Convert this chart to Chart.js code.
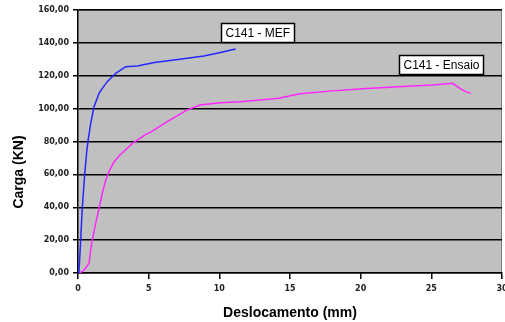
<!DOCTYPE html>
<html>
<head>
<meta charset="utf-8">
<script src="https://cdn.jsdelivr.net/npm/chart.js@4.4.1/dist/chart.umd.min.js"></script>
<style>
  html, body { margin: 0; padding: 0; background: #fff; }
  #wrap { width: 505px; height: 322px; }
</style>
</head>
<body>
<div id="wrap"><canvas id="myChart"></canvas></div>
<script>
// Values (displacement in mm, load in kN)
const mefX = [0, 0.07, 0.19, 0.3, 0.47, 0.62, 0.72, 0.9, 1.13, 1.49, 1.72, 2.07, 2.67, 3.37, 4.2, 5.4, 7.2, 8.9, 10, 11.15];
const mefY = [0, 0.8, 20, 39.3, 59.6, 74, 81, 91, 101, 109.3, 112.3, 116.4, 121.5, 125.5, 125.9, 128, 130, 132, 134, 136.3];

const ensaioX = [0, 0.3, 0.54, 0.78, 0.9, 1.01, 1.25, 1.49, 1.72, 1.96, 2.19, 2.55, 2.97, 3.9, 4.2, 4.74, 5.2, 6.28, 7.7, 8.63, 10.05, 11.46, 12.9, 14.2, 15.7, 18, 20.4, 23, 25.1, 26.5, 27, 27.4, 27.8];
const ensaioY = [0, 0.8, 2.9, 5.9, 14, 20, 30.2, 39.3, 48.5, 56.6, 61.6, 67.7, 71.8, 79.2, 80.9, 84, 86, 92, 99.1, 102.2, 103.6, 104.2, 105.2, 106.3, 109, 110.8, 112.3, 113.5, 114.4, 115.4, 112.5, 110.5, 109.3];

// Series labels and where their boxes sit (top-left corner, data units)
const seriesNames = ['C141 - MEF', 'C141 - Ensaio'];
const labelX = [10.1, 22.7];
const labelY = [151.9, 132.6];

const yTitle = 'Carga (KN)';
const xTitle = 'Deslocamento (mm)';

const toPoints = (xs, ys) => xs.map((x, i) => ({ x: x, y: ys[i] }));

// grey plot area + thin border on top/right
const plotBackground = {
    id: 'plotBackground',
    beforeDraw(chart) {
        const { ctx, chartArea: a } = chart;
        ctx.save();
        ctx.fillStyle = '#c0c0c0';
        ctx.fillRect(a.left, a.top, a.right - a.left, a.bottom - a.top);
        ctx.strokeStyle = '#808080';
        ctx.lineWidth = 1;
        ctx.beginPath();
        ctx.moveTo(a.left, a.top + 0.5);
        ctx.lineTo(a.right - 0.5, a.top + 0.5);
        ctx.lineTo(a.right - 0.5, a.bottom);
        ctx.stroke();
        ctx.restore();
    }
};

// boxed series labels + rotated y title
const seriesLabels = {
    id: 'seriesLabels',
    afterDatasetsDraw(chart) {
        const { ctx, scales } = chart;
        ctx.save();
        ctx.font = '12px "Liberation Sans", Arial, sans-serif';
        ctx.textBaseline = 'middle';
        seriesNames.forEach((name, i) => {
            const px = Math.round(scales.x.getPixelForValue(labelX[i])) + 0.5;
            const py = Math.round(scales.y.getPixelForValue(labelY[i])) + 0.5;
            const w = Math.round(ctx.measureText(name).width) + 8;
            const h = 19;
            ctx.fillStyle = '#fff';
            ctx.fillRect(px, py, w, h);
            ctx.strokeStyle = '#000';
            ctx.lineWidth = 1.5;
            ctx.strokeRect(px, py, w, h);
            ctx.fillStyle = '#000';
            ctx.fillText(name, px + 4, py + h / 2 + 1);
        });

        ctx.translate(19, 172);
        ctx.rotate(-Math.PI / 2);
        ctx.font = 'bold 14px "Liberation Sans", Arial, sans-serif';
        ctx.textAlign = 'center';
        ctx.textBaseline = 'middle';
        ctx.fillStyle = '#000';
        ctx.fillText(yTitle, 0, 0);
        ctx.restore();
    }
};

const tickFont = { family: '"DejaVu Sans", Verdana, sans-serif', size: 8, weight: 'bold' };

new Chart(document.getElementById('myChart').getContext('2d'), {
    type: 'line',
    data: {
        datasets: [{
            label: seriesNames[0],
            data: toPoints(mefX, mefY),
            borderColor: '#2626ff',
            borderWidth: 1.5,
            pointRadius: 0,
            tension: 0,
            fill: false
        }, {
            label: seriesNames[1],
            data: toPoints(ensaioX, ensaioY),
            borderColor: '#ff26ff',
            borderWidth: 1.5,
            pointRadius: 0,
            tension: 0,
            fill: false
        }]
    },
    options: {
        responsive: true,
        maintainAspectRatio: false,
        animation: false,
        layout: { padding: { left: 0, right: 3, top: 10, bottom: 0 } },
        plugins: {
            legend: { display: false },
            tooltip: { enabled: false }
        },
        scales: {
            x: {
                type: 'linear',
                min: 0,
                max: 30,
                ticks: { stepSize: 5, color: '#222', font: tickFont, padding: 5 },
                grid: { drawOnChartArea: false, drawTicks: true, tickLength: 6, tickColor: '#000', lineWidth: 1.5 },
                border: { display: true, color: '#000', width: 1.5 },
                title: {
                    display: true,
                    text: xTitle,
                    color: '#000',
                    font: { family: '"Liberation Sans", Arial, sans-serif', size: 14, weight: 'bold' },
                    padding: { top: 9, bottom: 0 }
                },
                afterFit(scale) {
                    scale.height = 49;
                    scale.paddingLeft = 0;
                    scale.paddingRight = 0;
                }
            },
            y: {
                min: 0,
                max: 160,
                ticks: {
                    stepSize: 20,
                    color: '#222',
                    font: tickFont,
                    padding: 4,
                    callback: v => v.toFixed(2).replace('.', ',')
                },
                grid: { color: '#000', lineWidth: 1.5, tickLength: 5, tickColor: '#000' },
                border: { display: true, color: '#000', width: 1.5 },
                afterFit(scale) {
                    scale.width = 78;
                    scale.paddingTop = 0;
                    scale.paddingBottom = 0;
                }
            }
        }
    },
    plugins: [plotBackground, seriesLabels]
});
</script>
</body>
</html>
